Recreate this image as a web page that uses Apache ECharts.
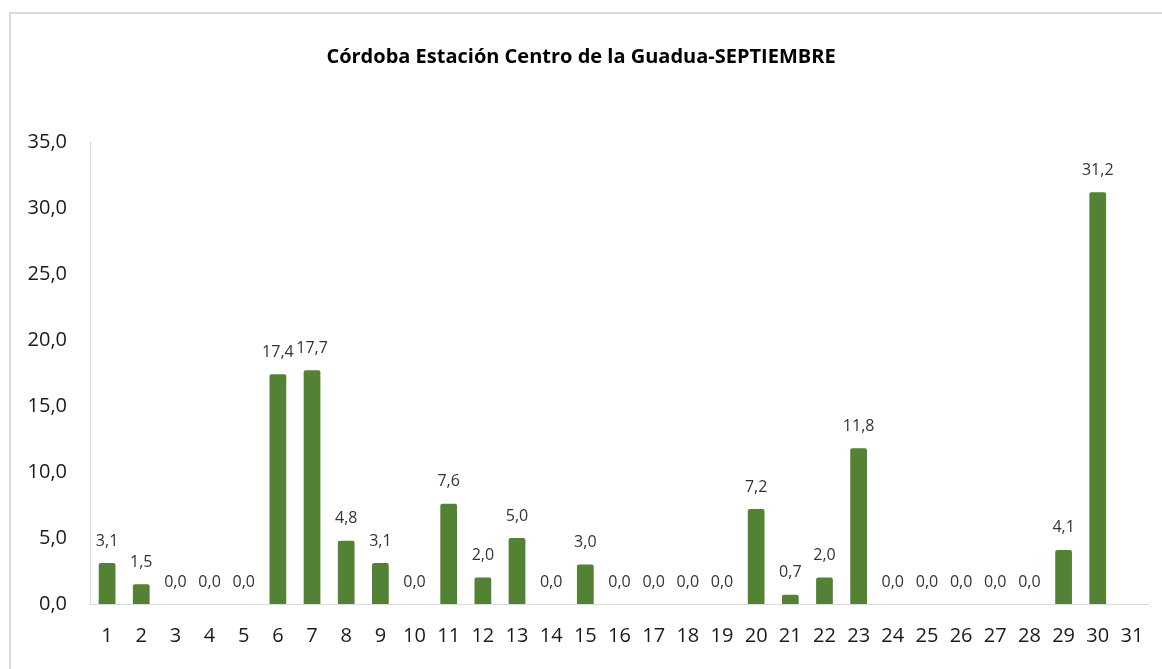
<!DOCTYPE html>
<html>
<head>
<meta charset="utf-8">
<script src="https://cdn.jsdelivr.net/npm/echarts@6/dist/echarts.min.js"></script>
<style>html,body{margin:0;padding:0;background:#fff;}#c{width:1162px;height:669px;}</style>
</head>
<body>
<div id="c"></div>
<script>
const title = 'Córdoba Estación Centro de la Guadua-SEPTIEMBRE';
const days = ['1','2','3','4','5','6','7','8','9','10','11','12','13','14','15','16','17','18','19','20','21','22','23','24','25','26','27','28','29','30','31'];
const rain = [3.1,1.5,0,0,0,17.4,17.7,4.8,3.1,0,7.6,2.0,5.0,0,3.0,0,0,0,0,7.2,0.7,2.0,11.8,0,0,0,0,0,4.1,31.2,null];
const yTicks = {min:0, max:35, interval:5};

const fmt = v => Number(v).toFixed(1).replace('.', ',');
const chart = echarts.init(document.getElementById('c'));
const FONT = '"Open Sans", "Noto Sans", sans-serif';
chart.setOption({
  animation:false,
  backgroundColor:'#fff',
  title:{text:title,left:'center',top:42,textStyle:{fontFamily:FONT,fontSize:20,fontWeight:'bold',color:'#000'}},
  graphic:[{type:'rect',shape:{x:10,y:13,width:1200,height:700},style:{fill:'none',stroke:'#d9d9d9',lineWidth:2},silent:true}],
  grid:{left:90,right:13,top:142,bottom:65},
  xAxis:{type:'category',data:days,
    axisLine:{show:true,lineStyle:{color:'#d9d9d9'}},axisTick:{show:false},
    axisLabel:{fontFamily:FONT,fontSize:20,color:'#1a1a1a',margin:22,interval:0}},
  yAxis:{type:'value',min:yTicks.min,max:yTicks.max,interval:yTicks.interval,
    axisLine:{show:true,lineStyle:{color:'#d9d9d9'}},axisTick:{show:false},splitLine:{show:false},
    axisLabel:{fontFamily:FONT,fontSize:20,color:'#1a1a1a',margin:23,formatter:v=>fmt(v)}},
  series:[{type:'bar',data:rain,barWidth:'49%',
    itemStyle:{color:'#548235',borderRadius:[2,2,0,0]},
    label:{show:true,position:'top',distance:14,fontFamily:FONT,fontSize:16,color:'#333',
      formatter:p=>p.value==null?'':fmt(p.value)}}]
});
</script>
</body>
</html>
